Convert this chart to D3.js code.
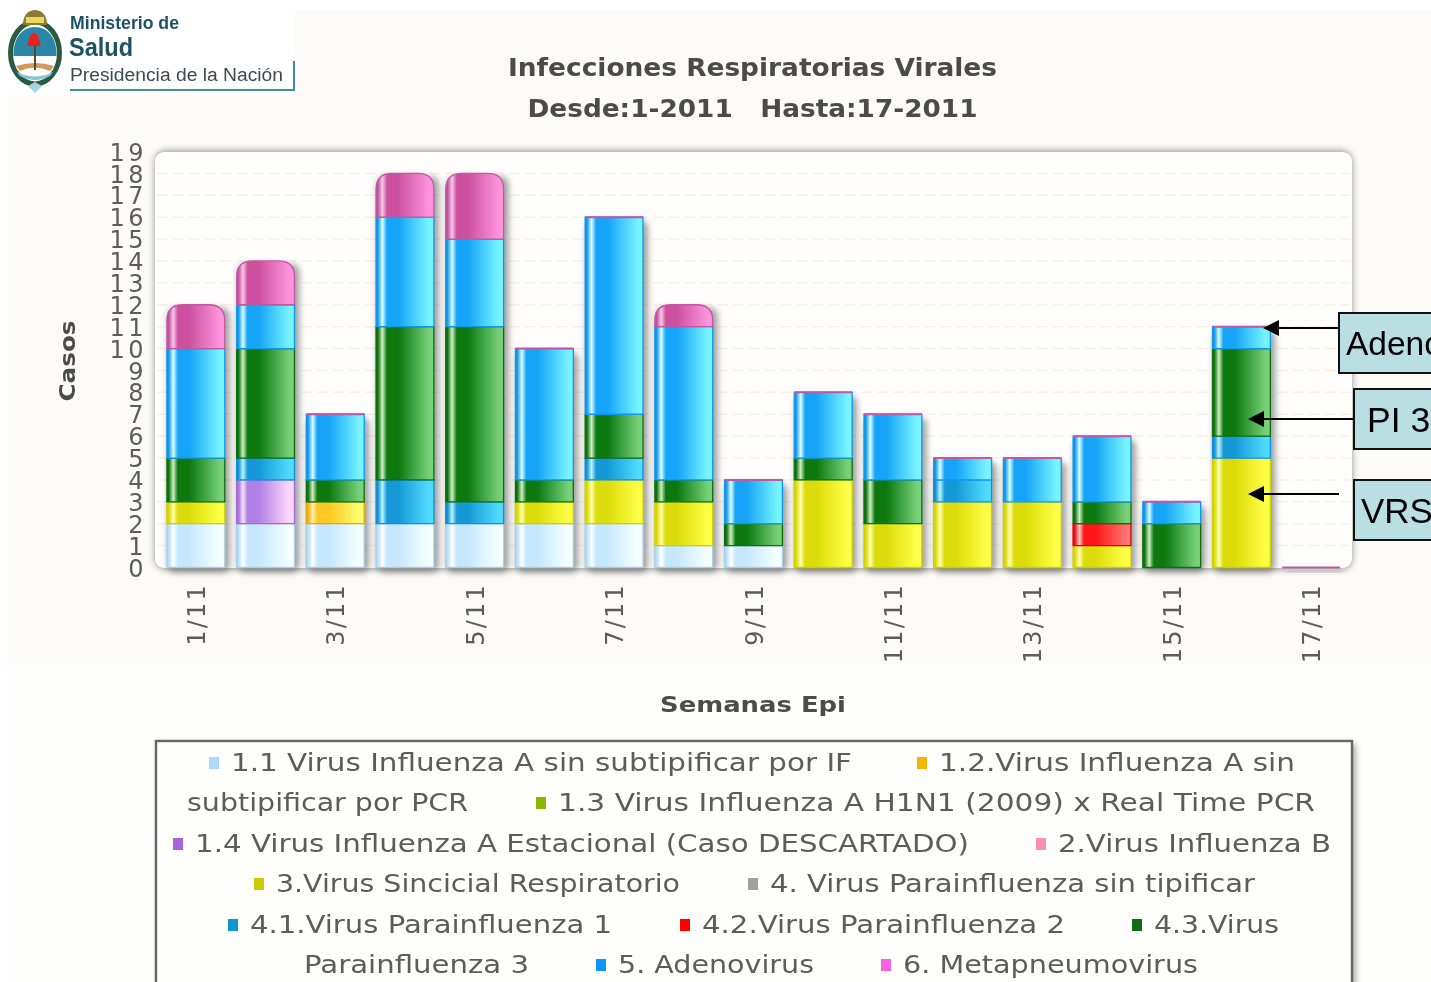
<!DOCTYPE html>
<html><head><meta charset="utf-8">
<script src="https://cdn.jsdelivr.net/npm/d3@7/dist/d3.min.js"></script>
<style>html,body{margin:0;padding:0;background:#fff;overflow:hidden}svg{display:block}</style></head>
<body><script>
// ---- data ----
const weeks = d3.range(1,18).map(w=>w+"/11");
const seriesNames = ["a11","a12","a14","vsr","p1","p2","p3","adeno","meta"];
const a11   = [2,2,2,2,2,2,2,1,1,0,0,0,0,0,0,0,0];
const a12   = [0,0,1,0,0,0,0,0,0,0,0,0,0,0,0,0,0];
const a14   = [0,2,0,0,0,0,0,0,0,0,0,0,0,0,0,0,0];
const vsr   = [1,0,0,0,0,1,2,2,0,4,2,3,3,1,0,5,0];
const p1    = [0,1,0,2,1,0,1,0,0,0,0,1,0,0,0,1,0];
const p2    = [0,0,0,0,0,0,0,0,0,0,0,0,0,1,0,0,0];
const p3    = [2,5,1,7,8,1,2,1,1,1,2,0,0,1,2,4,0];
const adeno = [5,2,3,5,4,6,9,7,2,3,3,1,2,3,1,1,0];
const meta  = [2,2,0,2,3,0,0,1,0,0,0,0,0,0,0,0,0];
const seriesValues = {a11,a12,a14,vsr,p1,p2,p3,adeno,meta};
const yTicks = d3.range(0,20);
const xTickWeeks = weeks.filter((d,i)=>i%2===0);
const titleLines = ["Infecciones Respiratorias Virales","Desde:1-2011   Hasta:17-2011"];
const legendLabels = ["1.1 Virus Influenza A sin subtipificar por IF","1.2.Virus Influenza A sin","subtipificar por PCR","1.3 Virus Influenza A H1N1 (2009) x Real Time PCR","1.4 Virus Influenza A Estacional (Caso DESCARTADO)","2.Virus Influenza B","3.Virus Sincicial Respiratorio","4. Virus Parainfluenza sin tipificar","4.1.Virus Parainfluenza 1","4.2.Virus Parainfluenza 2","4.3.Virus","Parainfluenza 3","5. Adenovirus","6. Metapneumovirus"];
const legendColors = ["#abd9fb","#f5b400",null,"#8ab800","#a765dc","#fb8fb0","#cccc00","#a0a0a0","#0a9acb","#ff0000","#0a6e14",null,"#0a96ff","#ff60e0"];
// ---- layout ----
const legendLayout = [[231,852,763],[939,1295,763],[187,468,803],[558,1315,803],[195,969,844],[1058,1331,844],[276,680,884],[770,1255,884],[250,612,925],[702,1065,925],[1154,1279,925],[304,529,965],[618,814,965],[903,1198,965]];
const grads = {
 a11:["#b8def5","#ffffff","#c6e8ff","#f6ffff","#a8d0e8"],
 a12:["#f0b010","#fff0b0","#ffc820","#ffff70","#e8a800"],
 a14:["#a870d8","#f4e4ff","#b080e4","#ffd8ff","#a468d0"],
 vsr:["#d8d800","#ffffb0","#dcdc08","#ffff48","#d0d000"],
 p1:["#1490d0","#b8f4ff","#1498d8","#50dcff","#0c90e8"],
 p2:["#f01010","#ffc8c8","#ff1414","#ff7474","#d80000"],
 p3:["#0a7010","#d0f0c0","#0a7810","#78d078","#0a7010"],
 adeno:["#1496e8","#d8ffff","#14a4f8","#78f4ff","#1098ec"],
 meta:["#c050a0","#f8c8e4","#cc50a0","#ff94dc","#c058a4"]
};
const W=1431,H=982;
const svg=d3.select("body").append("svg").attr("width",W).attr("height",H).style("font-family","'DejaVu Sans'");
const defs=svg.append("defs");
defs.append("filter").attr("id","soft").append("feGaussianBlur").attr("stdDeviation",0.6);
defs.append("filter").attr("id","barsoft").append("feGaussianBlur").attr("stdDeviation",0.5);
const sh=defs.append("filter").attr("id","shadow").attr("x","-5%").attr("y","-5%").attr("width","110%").attr("height","110%");
sh.append("feGaussianBlur").attr("stdDeviation",3.5);
const sh2=defs.append("filter").attr("id","barshadow").attr("x","-30%").attr("y","-10%").attr("width","160%").attr("height","120%");
sh2.append("feGaussianBlur").attr("stdDeviation",3);
Object.entries(grads).forEach(([k,c])=>{
  const g=defs.append("linearGradient").attr("id","g-"+k).attr("x1",0).attr("x2",1).attr("y1",0).attr("y2",0);
  [[0,c[0]],[.03,c[0]],[.11,c[1]],[.19,c[2]],[.38,c[2]],[.92,c[3]],[1,c[3]]].forEach(s=>g.append("stop").attr("offset",s[0]).attr("stop-color",s[1]));
});
// backgrounds
svg.append("rect").attr("x",8).attr("y",10).attr("width",W).attr("height",655).attr("fill","#fdfbf7");
svg.append("rect").attr("x",8).attr("y",665).attr("width",W).attr("height",H).attr("fill","#fefefc");
// logo
const logo=svg.append("g").attr("filter","url(#soft)");
logo.append("rect").attr("x",8).attr("y",10).attr("width",287).attr("height",85).attr("fill","#fff");
logo.append("ellipse").attr("cx",35).attr("cy",53).attr("rx",24.5).attr("ry",31).attr("fill","#fff").attr("stroke","#2a5a40").attr("stroke-width",5);
logo.append("path").attr("d","M13.5,56 C13,38 22,27 35,27 C48,27 57,38 56.5,56 Z").attr("fill","#2b87a8");
logo.append("path").attr("d","M16,71 C24,78 46,78 54,71 L50,76 Q35,84 20,76 Z").attr("fill","#8fc3d6");
logo.append("path").attr("d","M16,66 Q35,60 54,66 L50,71 Q35,64 20,71 Z").attr("fill","#d29a5c");
logo.append("rect").attr("x",34).attr("y",46).attr("width",2).attr("height",24).attr("fill","#5c4a28");
logo.append("path").attr("d","M27,46 L30,36 Q34,29 38,36 L41,46 Z").attr("fill","#e8201f");
logo.append("path").attr("d","M23,25 Q23,11 35,10 Q47,11 47,25 Z").attr("fill","#8d7a34");
logo.append("rect").attr("x",26).attr("y",17).attr("width",18).attr("height",6).attr("fill","#e8d860");
logo.append("path").attr("d","M28,86 L35,93 L42,86 L35,82 Z").attr("fill","#a8d3e0");
logo.append("text").attr("x",70).attr("y",29).attr("font-size",18).attr("font-weight",700).attr("font-family","'Liberation Sans'").attr("fill","#1f5264").attr("textLength",109).attr("lengthAdjust","spacingAndGlyphs").text("Ministerio de");
logo.append("text").attr("x",69).attr("y",56).attr("font-size",26).attr("font-weight",700).attr("font-family","'Liberation Sans'").attr("fill","#1f5264").attr("textLength",64).attr("lengthAdjust","spacingAndGlyphs").text("Salud");
logo.append("text").attr("x",70).attr("y",81).attr("font-size",18).attr("font-family","'Liberation Sans'").attr("fill","#3c4a50").attr("textLength",213).attr("lengthAdjust","spacingAndGlyphs").text("Presidencia de la Nación");
logo.append("path").attr("d","M70,90 H294 V61").attr("fill","none").attr("stroke","#3f8da6").attr("stroke-width",2);
// titles
const txt=svg.append("g").attr("filter","url(#soft)");
txt.selectAll(".t").data(titleLines).join("text").attr("x",752.5).attr("y",(d,i)=>[76,117][i]).attr("text-anchor","middle")
  .attr("font-size",24).attr("font-weight",700).attr("fill","#4c4c4c").style("white-space","pre")
  .attr("textLength",(d,i)=>[489,450][i]).attr("lengthAdjust","spacingAndGlyphs").text(d=>d);
txt.append("text").attr("x",753).attr("y",712).attr("text-anchor","middle").attr("font-size",22).attr("font-weight",700).attr("fill","#4c4c4c").attr("textLength",186).attr("lengthAdjust","spacingAndGlyphs").text("Semanas Epi");
txt.append("text").attr("transform","translate(75,361) rotate(-90)").attr("text-anchor","middle").attr("font-size",22).attr("font-weight",700).attr("fill","#4c4c4c").attr("textLength",81).attr("lengthAdjust","spacingAndGlyphs").text("Casos");
// plot
const plot={l:155,r:1352,t:152,b:567};
const x=d3.scaleBand().domain(weeks).range([161,1346]).paddingInner(0.17).paddingOuter(0.085);
const y=d3.scaleLinear().domain([0,19]).range([567.5,151.5]);
svg.append("rect").attr("x",plot.l).attr("y",plot.t-1).attr("width",plot.r-plot.l).attr("height",plot.b-plot.t+3).attr("rx",10).attr("fill","#444").attr("opacity",.6).attr("filter","url(#shadow)");
svg.append("rect").attr("x",plot.l).attr("y",plot.t).attr("width",plot.r-plot.l).attr("height",plot.b-plot.t+1).attr("rx",9).attr("fill","#fffefd");
const gridG=svg.append("g").attr("filter","url(#barsoft)");
gridG.selectAll("line").data(yTicks.slice(1,19)).join("line").attr("x1",plot.l+2).attr("x2",plot.r-2).attr("y1",d=>y(d)).attr("y2",d=>y(d)).attr("stroke","#fcefe2").attr("stroke-width",1.5).attr("stroke-dasharray","11 5");
// bars
const stack=d3.stack().keys(seriesNames).value((d,k)=>seriesValues[k][d]);
const layers=stack(d3.range(weeks.length));
const bw=x.bandwidth();
function seg(xp,y0,y1,r){ return `M${xp},${y0}V${y1+r}Q${xp},${y1} ${xp+r},${y1}H${xp+bw-r}Q${xp+bw},${y1} ${xp+bw},${y1+r}V${y0}Z`; }
const totals=weeks.map((w,i)=>d3.sum(seriesNames,k=>seriesValues[k][i]));
const barG=svg.append("g");
barG.selectAll(".sh").data(weeks).join("rect").attr("x",d=>x(d)+1).attr("width",bw+4).attr("y",(d,i)=>y(totals[i])+3).attr("height",(d,i)=>y(0)-y(totals[i])+2).attr("rx",8).attr("fill","#444").attr("opacity",.5).attr("filter","url(#barshadow)");
const segG=barG.append("g").attr("filter","url(#barsoft)");
layers.forEach(l=>{
  const k=l.key;
  segG.append("g").selectAll("path").data(l.map((v,i)=>({v,i})).filter(o=>o.v[1]>o.v[0])).join("path")
    .attr("d",o=>seg(x(weeks[o.i]),y(o.v[0]),y(o.v[1]),k==="meta"?16:0))
    .attr("fill",`url(#g-${k})`).attr("stroke",grads[k][4]).attr("stroke-width",1.3);
});
// zero-height metapneumovirus caps
segG.append("g").selectAll("line").data(weeks.map((w,i)=>({w,i})).filter(o=>meta[o.i]===0)).join("line")
  .attr("x1",o=>x(o.w)).attr("x2",o=>x(o.w)+bw).attr("y1",o=>y(totals[o.i])).attr("y2",o=>y(totals[o.i]))
  .attr("stroke",grads.meta[4]).attr("stroke-width",2);
// axes
const axG=svg.append("g").attr("filter","url(#soft)");
const ya=axG.append("g").attr("transform","translate(147,0)").call(d3.axisLeft(y).tickValues(yTicks).tickSize(0).tickPadding(0).tickFormat(d3.format("d")));
ya.select(".domain").remove();
ya.selectAll("text").attr("font-size",24).attr("font-family","'DejaVu Sans'").attr("fill","#5c5c5c").attr("letter-spacing",3.5).attr("dy","0.36em");
const xa=axG.append("g").attr("transform","translate(0,583)").call(d3.axisBottom(x).tickValues(xTickWeeks).tickSize(0).tickPadding(0));
xa.select(".domain").remove();
xa.selectAll("text").attr("font-size",24).attr("font-family","'DejaVu Sans'").attr("fill","#5c5c5c").attr("letter-spacing",2.2).attr("text-anchor","end").attr("dy",null).attr("transform","rotate(-90) translate(0,9)");
// legend
svg.append("rect").attr("x",156).attr("y",741).attr("width",1196).attr("height",300).attr("fill","#444").attr("opacity",.55).attr("filter","url(#shadow)").attr("transform","translate(3,3)");
svg.append("rect").attr("x",156).attr("y",741).attr("width",1196).attr("height",300).attr("fill","#fefefd").attr("stroke","#666").attr("stroke-width",2.4);
const lg=svg.append("g").attr("filter","url(#soft)");
lg.selectAll("text").data(legendLabels).join("text").attr("x",(d,i)=>legendLayout[i][0]).attr("y",(d,i)=>legendLayout[i][2]+8).attr("font-size",24).attr("fill","#5c5c5c")
  .attr("textLength",(d,i)=>legendLayout[i][1]-legendLayout[i][0]).attr("lengthAdjust","spacingAndGlyphs").text(d=>d);
lg.selectAll("rect").data(legendLabels.map((d,i)=>i).filter(i=>legendColors[i])).join("rect").attr("x",i=>legendLayout[i][0]-22).attr("y",i=>legendLayout[i][2]-6).attr("width",10).attr("height",12).attr("fill",i=>legendColors[i]);
// callouts
const callouts=[{t:"Adeno",fs:33.5,bx:1339,by:313,ty:355,tx:1346,ax1:1339,ay:328,ax2:1263},{t:"PI 3",fs:35.5,bx:1354,by:389,ty:432,tx:1367,ax1:1354,ay:419,ax2:1248},{t:"VRS",fs:35,bx:1354,by:480,ty:523,tx:1361,ax1:1339,ay:494,ax2:1248}];
const cg=svg.append("g");
callouts.forEach(c=>{
  cg.append("rect").attr("x",c.bx).attr("y",c.by).attr("width",120).attr("height",60).attr("fill","#b9dfe3").attr("stroke","#111").attr("stroke-width",2);
  cg.append("text").attr("x",c.tx).attr("y",c.ty).attr("font-family","'Liberation Sans'").attr("font-size",c.fs).attr("fill","#000").text(c.t);
  cg.append("line").attr("x1",c.ax1).attr("x2",c.ax2+10).attr("y1",c.ay).attr("y2",c.ay).attr("stroke","#000").attr("stroke-width",2);
  cg.append("path").attr("d",`M${c.ax2},${c.ay}l16,-8v16Z`).attr("fill","#000");
});
</script></body></html>
